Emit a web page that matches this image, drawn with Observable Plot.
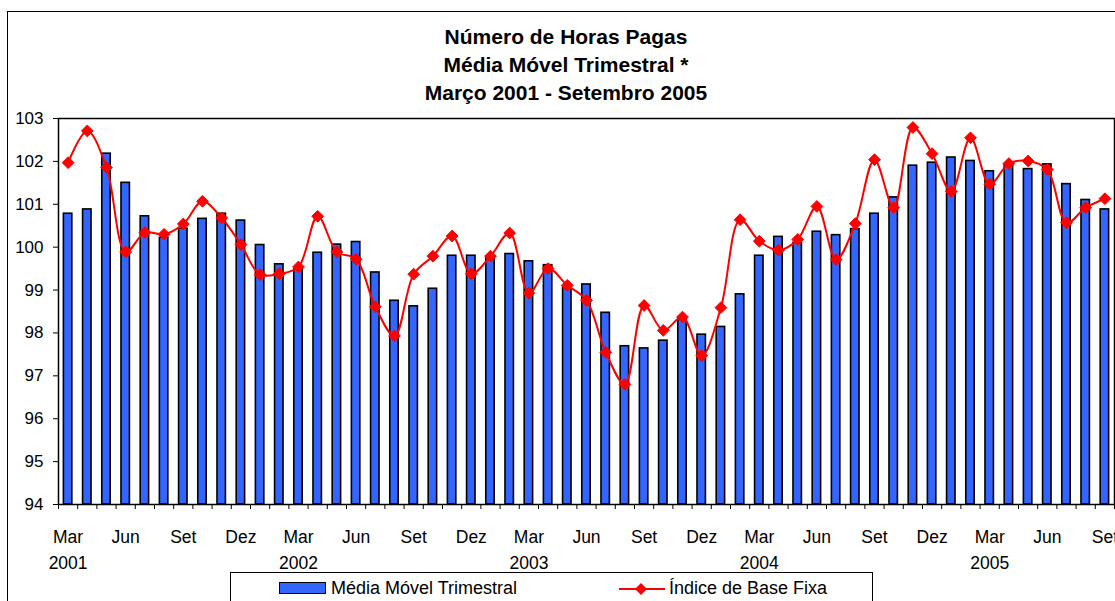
<!DOCTYPE html>
<html>
<head>
<meta charset="utf-8">
<script src="https://cdn.jsdelivr.net/npm/d3@7"></script>
<script src="https://cdn.jsdelivr.net/npm/@observablehq/plot@0.6"></script>
<style>
  html, body { margin: 0; padding: 0; background: #fff; }
  body { font-family: "Liberation Sans", Arial, sans-serif; }
  #wrap { position: relative; width: 1115px; height: 601px; overflow: hidden; background: #fff; }
  #outer { position: absolute; left: 7px; top: 11px; width: 1130px; height: 620px; border: 1.5px solid #000; }
  #title { position: absolute; left: 0; top: 23px; width: 1132px; text-align: center; font-weight: bold; font-size: 21px; line-height: 28px; color: #000; }
  #chart { position: absolute; left: 0; top: 110px; }
  #legend { position: absolute; left: 230px; top: 572px; width: 641px; height: 50px; border: 1px solid #000; background: #fff; font-size: 18px; color: #000; }
  #legend .sw { position: absolute; left: 48px; top: 9px; width: 45px; height: 10px; background: #3366ff; border: 1.5px solid #000; }
  #legend .t1 { position: absolute; left: 100px; top: 5px; line-height: 21px; }
  #legend svg { position: absolute; left: 386px; top: 5px; }
  #legend .t2 { position: absolute; left: 438px; top: 5px; line-height: 21px; }
</style>
</head>
<body>
<div id="wrap">
  <div id="outer"></div>
  <div id="title">Número de Horas Pagas<br>Média Móvel Trimestral *<br>Março 2001 - Setembro 2005</div>
  <div id="chart"></div>
  <div id="legend">
    <div class="sw"></div><div class="t1">Média Móvel Trimestral</div>
    <svg width="50" height="22"><line x1="2" y1="11" x2="48" y2="11" stroke="#ff0000" stroke-width="2"/><path d="M24,5 L30,11 L24,17 L18,11 Z" fill="#ff0000"/></svg>
    <div class="t2">Índice de Base Fixa</div>
  </div>
</div>
<script>
// Months Mar 2001 - Sep 2005
const monthNames = ["Jan","Fev","Mar","Abr","Mai","Jun","Jul","Ago","Set","Out","Nov","Dez"];
const startYear = 2001, startMonth = 2; // March (0-based)
const nMonths = 55;

// Média Móvel Trimestral (bars)
const mediaMovel = [
  100.78, 100.88, 102.18, 101.50, 100.72, 100.22, 100.43, 100.66, 100.78, 100.62,
  100.05, 99.60, 99.48, 99.87, 100.06, 100.12, 99.41, 98.75, 98.62, 99.03,
  99.80, 99.80, 99.77, 99.84, 99.67, 99.58, 99.08, 99.13, 98.47, 97.69,
  97.64, 97.82, 98.35, 97.96, 98.14, 98.90, 99.80, 100.24, 100.10, 100.36,
  100.28, 100.42, 100.78, 101.16, 101.90, 101.97, 102.09, 102.01, 101.77, 101.93,
  101.82, 101.93, 101.47, 101.10, 100.88
];

// Índice de Base Fixa (line)
const indiceBase = [
  101.97, 102.71, 101.86, 99.89, 100.34, 100.30, 100.54, 101.07, 100.68, 100.06,
  99.36, 99.38, 99.54, 100.72, 99.89, 99.72, 98.61, 97.93, 99.37, 99.79,
  100.26, 99.38, 99.79, 100.33, 98.93, 99.50, 99.11, 98.76, 97.55, 96.80,
  98.64, 98.06, 98.37, 97.47, 98.59, 100.64, 100.14, 99.93, 100.18, 100.95,
  99.71, 100.55, 102.04, 100.92, 102.79, 102.18, 101.30, 102.55, 101.47, 101.95,
  102.01, 101.81, 100.57, 100.92, 101.13
];

const yTicks = [94, 95, 96, 97, 98, 99, 100, 101, 102, 103];

const rows = d3.range(nMonths).map(i => {
  const m = (startMonth + i) % 12;
  const y = startYear + Math.floor((startMonth + i) / 12);
  return {
    i,
    mon: monthNames[m],
    year: y,
    media: mediaMovel[i],
    indice: indiceBase[i],
    labeled: m % 3 === 2,
    yearLabel: m === 2
  };
});

const halfBar = 0.22; // half bar width, in category units
const boundaries = d3.range(nMonths + 1).map(i => i - 0.5);

const chart = Plot.plot({
  width: 1115,
  height: 462,
  marginTop: 8,
  marginBottom: 68,
  marginLeft: 58,
  marginRight: 1,
  style: { fontFamily: "'Liberation Sans', Arial, sans-serif", fontSize: "17px", color: "#000", background: "transparent", overflow: "visible" },
  x: { type: "linear", domain: [-0.5, nMonths - 0.5] },
  y: { domain: [94, 103] },
  marks: [
    Plot.rectY(rows, { x1: d => d.i - halfBar, x2: d => d.i + halfBar, y1: 94, y2: "media", fill: "#3366ff", stroke: "#000", strokeWidth: 1.6 }),
    Plot.frame({ stroke: "#000", strokeWidth: 1.5 }),
    Plot.axisY({ ticks: yTicks, tickSize: 5, tickPadding: 10, tickFormat: d => d, fontSize: 17, label: null, stroke: "#000", strokeWidth: 1 }),
    Plot.axisX({ ticks: boundaries, tickSize: 5, tickFormat: () => "", label: null, stroke: "#000", strokeWidth: 1 }),
    Plot.line(rows, { x: "i", y: "indice", stroke: "#ff0000", strokeWidth: 2, curve: "catmull-rom" }),
    Plot.dot(rows, { x: "i", y: "indice", symbol: "diamond2", r: 5.3, fill: "#ff0000", stroke: "#ff0000", strokeWidth: 1 }),
    Plot.text(rows.filter(d => d.labeled), { x: "i", text: "mon", frameAnchor: "bottom", dy: 38, fontSize: 17.5, fill: "#000" }),
    Plot.text(rows.filter(d => d.yearLabel), { x: "i", text: d => String(d.year), frameAnchor: "bottom", dy: 64, fontSize: 17.5, fill: "#000" })
  ]
});
document.getElementById("chart").appendChild(chart);
</script>
</body>
</html>
